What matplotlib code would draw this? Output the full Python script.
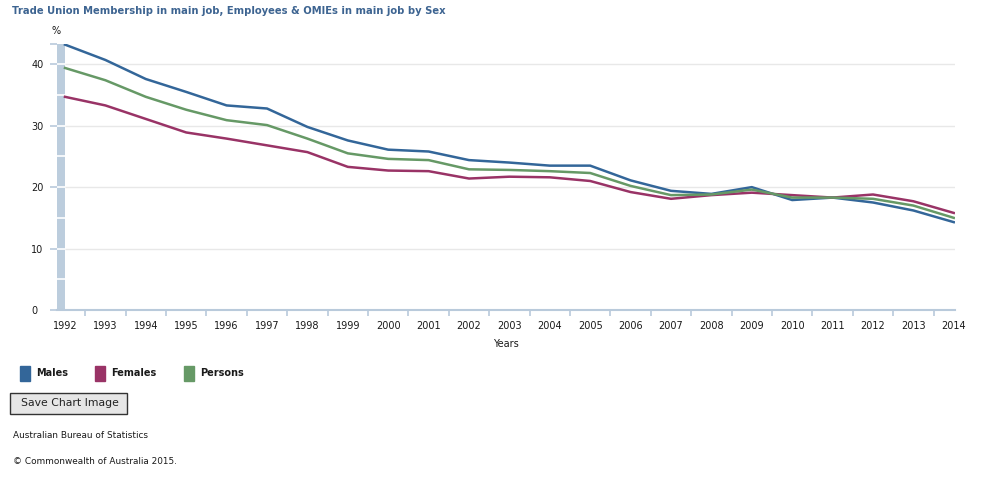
import numpy as np
import matplotlib.pyplot as plt
from matplotlib.patches import Rectangle

# Données
annees = list(range(1992, 2015))
hommes = [43.2, 40.7, 37.6, 35.5, 33.3, 32.8, 29.8, 27.6, 26.1, 25.8, 24.4, 24.0,
          23.5, 23.5, 21.1, 19.4, 18.9, 20.0, 17.9, 18.3, 17.5, 16.2, 14.3]
femmes = [34.7, 33.3, 31.1, 28.9, 27.9, 26.8, 25.7, 23.3, 22.7, 22.6, 21.4, 21.7,
          21.6, 21.0, 19.2, 18.1, 18.7, 19.1, 18.7, 18.3, 18.8, 17.7, 15.8]
personnes = [39.4, 37.4, 34.7, 32.6, 30.9, 30.1, 27.9, 25.5, 24.6, 24.4, 22.9, 22.8,
             22.6, 22.3, 20.2, 18.7, 18.8, 19.6, 18.3, 18.3, 18.1, 17.0, 15.0]
series = [("Males", hommes, "#336699"),
          ("Females", femmes, "#993366"),
          ("Persons", personnes, "#669966")]
yticks = [0, 10, 20, 30, 40]

axe_col = "#b9cadb"
texte = "#1a1a1a"

fig = plt.figure(figsize=(10, 5), dpi=100)
ax = fig.add_axes([0.057, 0.38, 0.898, 0.532])

x0 = 1992 - 8 / 40.4
ax.set_xlim(x0, 2014.03)
ax.set_ylim(0, 43.3)

# grille + bande à gauche
ax.hlines(yticks[1:], 1992, 2014.03, color="#e8e8e8", lw=1, zorder=1)
ax.axvspan(x0, 1992, color="#bccddd", lw=0, zorder=2)
ax.hlines(np.arange(5, 45, 5), x0, 1992, color="white", lw=1.2, zorder=3)

for nom, vals, col in series:
    ax.plot(annees, vals, color=col, lw=1.8, zorder=4)

for s in ["top", "right", "left"]:
    ax.spines[s].set_visible(False)
ax.spines["bottom"].set_color(axe_col)
ax.spines["bottom"].set_linewidth(1.5)

ax.set_yticks(yticks + [43.3])
ax.set_yticklabels([str(v) for v in yticks] + [""])
ax.tick_params(axis="y", length=5, width=1.2, color=axe_col, pad=13.5,
               labelsize=7, labelcolor=texte)
for lab in ax.get_yticklabels():
    lab.set_horizontalalignment("left")

ax.set_xticks(annees)
ax.set_xticklabels([str(a) for a in annees])
ax.set_xticks(np.arange(1992.5, 2014, 1), minor=True)
ax.tick_params(axis="x", which="major", length=0, pad=8, labelsize=7, labelcolor=texte)
ax.tick_params(axis="x", which="minor", length=4, width=1.2, color=axe_col)
ax.set_xlabel("Years", fontsize=7, color=texte, labelpad=6)

fig.text(0.056, 0.938, "%", fontsize=7, color=texte, ha="center", va="center")
fig.text(0.012, 0.978, "Trade Union Membership in main job, Employees & OMIEs in main job by Sex",
         fontsize=7.2, fontweight="bold", color="#3d6491", ha="left", va="center")

# légende
lx = [20, 95, 184]
for (nom, vals, col), x in zip(series, lx):
    fig.patches.append(Rectangle((x / 1000, 1 - 381 / 500), 10 / 1000, 15 / 500,
                                 transform=fig.transFigure, color=col))
    fig.text((x + 16) / 1000, 1 - 373 / 500, nom, fontsize=7, fontweight="bold",
             color=texte, ha="left", va="center")

# bouton
fig.patches.append(Rectangle((10 / 1000, 1 - 414 / 500), 117 / 1000, 21 / 500,
                             transform=fig.transFigure, facecolor="#e6e6e6",
                             edgecolor="#333333", lw=1))
fig.text(70 / 1000, 1 - 403.5 / 500, "Save Chart Image", fontsize=7.8,
         color="#222222", ha="center", va="center")

fig.text(0.013, 1 - 435 / 500, "Australian Bureau of Statistics", fontsize=6.4,
         color=texte, ha="left", va="center")
fig.text(0.013, 1 - 461 / 500, "© Commonwealth of Australia 2015.", fontsize=6.4,
         color=texte, ha="left", va="center")

fig.savefig("out.png", dpi=100)
